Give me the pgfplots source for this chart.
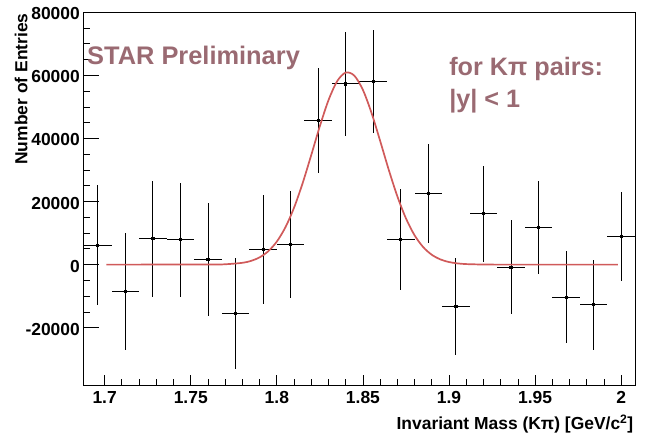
\documentclass[border=0pt]{standalone}
\usepackage{fontspec}
\setmainfont{Liberation Sans}
\usepackage{pgfplots}
\pgfplotsset{compat=1.18}
\definecolor{starmauve}{RGB}{154,106,114}
\definecolor{fitred}{RGB}{208,90,90}

\pgfplotstableread{
x      y       ex     ey
1.696  6200    0.008  18900
1.712  -8500   0.008  18600
1.728  8200    0.008  18400
1.744  7900    0.008  18100
1.760  1700    0.008  17900
1.776  -15500  0.008  17500
1.792  4800    0.008  17300
1.808  6300    0.008  17000
1.824  45600   0.008  16700
1.840  57300   0.008  16450
1.856  58000   0.008  16250
1.872  7900    0.008  16000
1.888  22500   0.008  15700
1.904  -13300  0.008  15500
1.920  16100   0.008  15300
1.936  -800    0.008  15000
1.952  11700   0.008  14700
1.968  -10400  0.008  14600
1.984  -12700  0.008  14300
2.000  9000    0.008  14100
}\histdata

\pgfplotstableread{
x      y
1.701  0
1.760  16
1.770  108
1.780  566
1.785  1177
1.790  2300
1.795  4230
1.800  7310
1.805  11860
1.810  18060
1.815  25860
1.820  34770
1.825  43940
1.830  52140
1.835  58140
1.840  60890
1.845  59910
1.850  55370
1.855  48080
1.860  39210
1.865  30050
1.870  21630
1.875  14630
1.880  9290
1.885  5550
1.890  3110
1.895  1640
1.900  810
1.905  376
1.910  164
1.920  26
1.930  0
1.998  0
}\fitdata

\begin{document}
\begin{tikzpicture}
\begin{axis}[
  name=ax,
  scale only axis,
  width=551.7bp, height=373.4bp,
  xmin=1.6876, xmax=2.008,
  ymin=-38400, ymax=80000,
  scaled y ticks=false, scaled x ticks=false,
  axis line style={line width=0.8bp},
  xtick={1.7,1.75,1.8,1.85,1.9,1.95,2},
  xticklabels={1.7,1.75,1.8,1.85,1.9,1.95,2},
  minor x tick num=4,
  ytick={-20000,0,20000,40000,60000,80000},
  yticklabels={-20000,0,20000,40000,60000,80000},
  minor y tick num=3,
  extra y ticks={-20000,0,20000,40000,60000,80000},
  extra y tick labels={},
  extra y tick style={major tick length=16bp},
  tick align=inside,
  xtick pos=bottom, ytick pos=left,
  tick style={black, line width=0.8bp},
  major tick length=10.5bp,
  minor tick length=7bp,
  tick label style={font=\bfseries\fontsize{17.5}{17.5}\selectfont, inner sep=0pt},
  xticklabel style={anchor=base, yshift=-17.6bp},
  yticklabel style={anchor=east, xshift=-3.3bp, yshift=-1.5bp},
  /pgf/number format/assume math mode=true,
  xlabel={Invariant Mass (Kπ) [GeV/c\textsuperscript{2}]},
  ylabel={Number of Entries},
  every axis x label/.style={at={([yshift=-43.6bp,xshift=-1.5bp]axis description cs:1,0)}, anchor=base east,
    font=\bfseries\fontsize{17.5}{17.5}\selectfont, inner sep=0pt},
  every axis y label/.style={at={([xshift=-55.8bp,yshift=-1bp]axis description cs:0,1)}, rotate=90, anchor=base east,
    font=\bfseries\fontsize{17.5}{17.5}\selectfont, inner sep=0pt},
  clip=false,
]
\addplot[black, line width=0.9bp, mark=square*, mark size=1.1bp,
  error bars/.cd, x dir=both, x explicit, y dir=both, y explicit,
  error mark=none, error bar style={black, line width=0.9bp}]
  table[x=x, y=y, x error=ex, y error=ey, only marks] {\histdata};
\addplot[fitred, line width=1.7bp, smooth, no marks] table[x=x, y=y] {\fitdata};

\node[anchor=base west, starmauve, font=\bfseries\fontsize{25.5}{25.5}\selectfont, inner sep=0pt]
  at (axis description cs:0.0067,0.859) {STAR Preliminary};
\node[anchor=base west, starmauve, font=\bfseries\fontsize{25.3}{25.3}\selectfont, inner sep=0pt]
  at (axis description cs:0.663,0.832) {for Kπ pairs:};
\node[anchor=base west, starmauve, font=\bfseries\fontsize{25.3}{25.3}\selectfont, inner sep=0pt]
  at (axis description cs:0.663,0.746) {|y| < 1};
\end{axis}
\pgfresetboundingbox
\path ([shift={(-83.3bp,-52.3bp)}]ax.south west) rectangle ([shift={(11bp,12.3bp)}]ax.north east);
\end{tikzpicture}
\end{document}
